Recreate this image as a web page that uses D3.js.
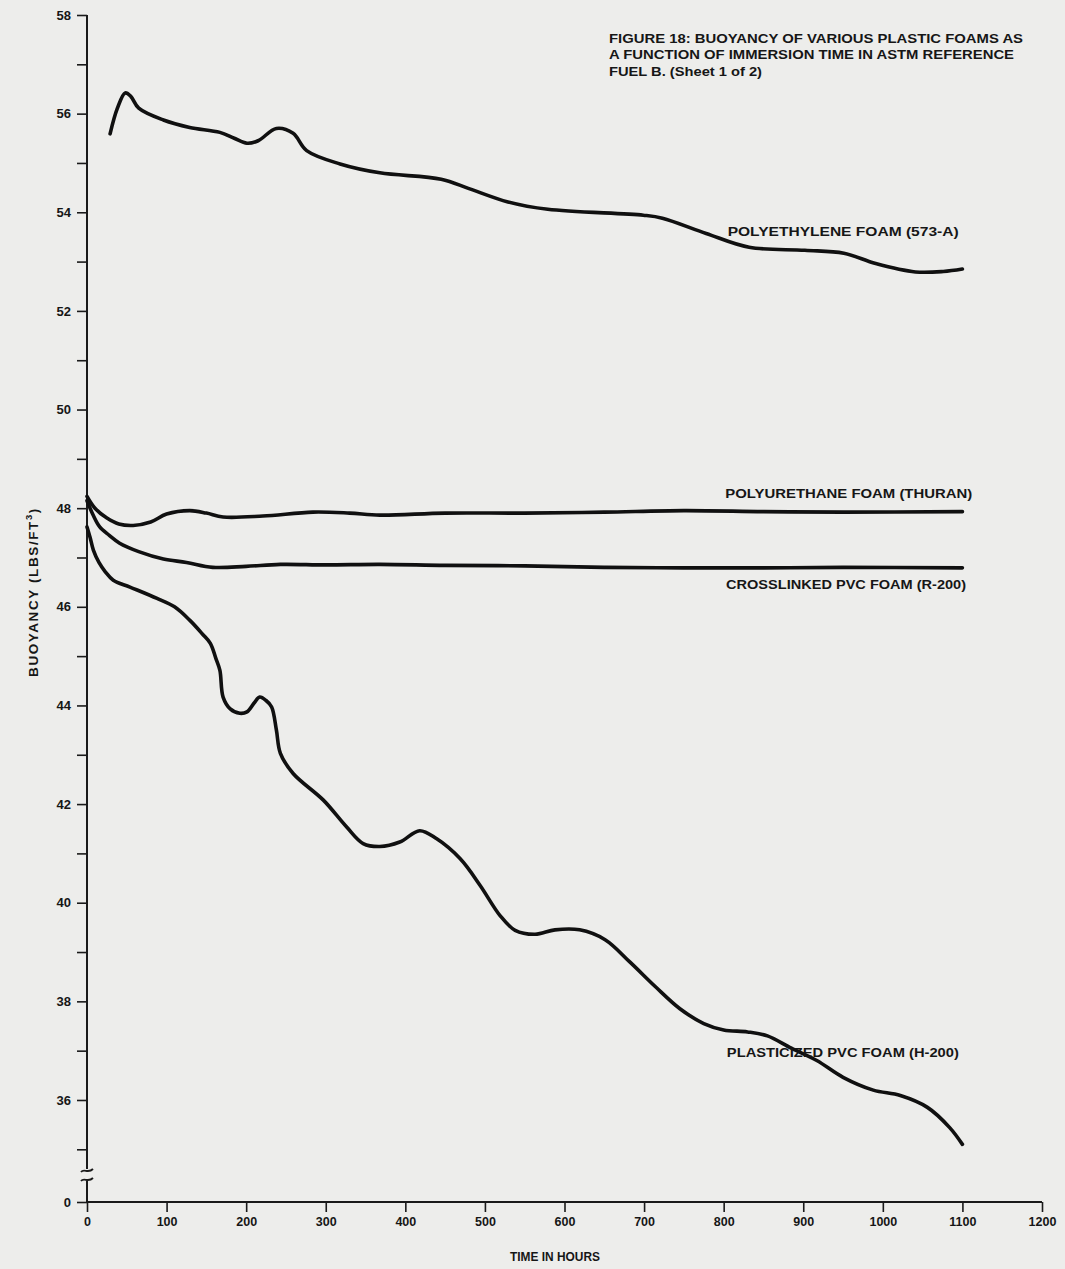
<!DOCTYPE html>
<html>
<head>
<meta charset="utf-8">
<script src="https://cdn.jsdelivr.net/npm/d3@7"></script>
<style>
  html, body { margin: 0; padding: 0; background: #ededeb; }
  svg { display: block; }
  text { font-family: "Liberation Sans Narrow", "Liberation Sans", Arial, sans-serif; font-weight: bold; fill: #161616; }
</style>
</head>
<body>
<svg id="chart" width="1065" height="1269"></svg>
<script>
// ---- data: buoyancy (lbs/ft^3) against immersion time (hours) ----
const xTickValues = [0, 100, 200, 300, 400, 500, 600, 700, 800, 900, 1000, 1100, 1200];
const yLabelledTicks = [0, 36, 38, 40, 42, 44, 46, 48, 50, 52, 54, 56, 58];
const yAllTicks = [0, 35, 36, 37, 38, 39, 40, 41, 42, 43, 44, 45, 46, 47, 48, 49, 50, 51, 52, 53, 54, 55, 56, 57, 58];

const polyethyleneHours = [29, 38, 48, 55, 65, 96, 129, 167, 185, 201, 215, 238, 259, 276, 318, 368, 445, 480, 529, 579, 699, 723, 778, 832, 902, 951, 991, 1041, 1076, 1100];
const polyethyleneBuoyancy = [55.59, 56.1, 56.42, 56.35, 56.11, 55.87, 55.72, 55.62, 55.5, 55.4, 55.45, 55.7, 55.6, 55.25, 54.98, 54.8, 54.67, 54.48, 54.21, 54.06, 53.94, 53.88, 53.57, 53.29, 53.23, 53.17, 52.96, 52.79, 52.8, 52.85];

const polyurethaneHours = [0, 10, 25, 40, 58, 80, 100, 129, 150, 171, 221, 284, 330, 368, 450, 550, 650, 750, 850, 950, 1100];
const polyurethaneBuoyancy = [48.24, 48.0, 47.8, 47.68, 47.65, 47.72, 47.88, 47.95, 47.9, 47.82, 47.84, 47.92, 47.9, 47.86, 47.9, 47.9, 47.92, 47.95, 47.93, 47.92, 47.93];

const crosslinkedHours = [0, 8, 16, 28, 41, 65, 96, 125, 158, 200, 243, 300, 368, 450, 550, 650, 750, 850, 950, 1100];
const crosslinkedBuoyancy = [48.15, 47.85, 47.62, 47.45, 47.29, 47.12, 46.97, 46.9, 46.8, 46.82, 46.86, 46.85, 46.86, 46.84, 46.83, 46.8, 46.79, 46.79, 46.8, 46.79];

const plasticizedHours = [0, 4, 8, 15, 23, 33, 54, 88, 110, 129, 145, 155, 162, 167, 171, 180, 192, 201, 210, 217, 225, 232, 238, 243, 259, 297, 326, 347, 368, 393, 418, 439, 469, 494, 519, 538, 563, 588, 619, 651, 682, 714, 745, 775, 800, 830, 855, 885, 917, 950, 988, 1022, 1056, 1084, 1100];
const plasticizedBuoyancy = [47.62, 47.4, 47.15, 46.9, 46.71, 46.54, 46.4, 46.17, 46.0, 45.73, 45.45, 45.26, 44.95, 44.71, 44.17, 43.93, 43.84, 43.87, 44.05, 44.17, 44.1, 43.97, 43.5, 43.03, 42.62, 42.08, 41.54, 41.2, 41.14, 41.23, 41.46, 41.3, 40.89, 40.35, 39.74, 39.44, 39.36, 39.45, 39.45, 39.25, 38.8, 38.3, 37.85, 37.55, 37.42, 37.38, 37.3, 37.05, 36.8, 36.46, 36.2, 36.09, 35.85, 35.44, 35.1];

const seriesNames = ["POLYETHYLENE FOAM (573-A)", "POLYURETHANE FOAM (THURAN)", "CROSSLINKED PVC FOAM (R-200)", "PLASTICIZED PVC FOAM (H-200)"];
const titleLines = ["FIGURE 18:  BUOYANCY OF VARIOUS PLASTIC FOAMS AS", "A FUNCTION OF IMMERSION TIME IN ASTM REFERENCE", "FUEL B.  (Sheet 1 of 2)"];

// ---- layout ----
const svg = d3.select("#chart");
const x = d3.scaleLinear().domain([0, 1200]).range([87, 1042]);
// broken value axis: 0 sits just below the 35..58 span
const y = d3.scaleLinear().domain([0, 35, 58]).range([1202, 1149.3, 15]);

const series = [
  { name: seriesNames[0], hours: polyethyleneHours, values: polyethyleneBuoyancy, label: { h: 805, v: 53.52, len: 231 } },
  { name: seriesNames[1], hours: polyurethaneHours, values: polyurethaneBuoyancy, label: { h: 802, v: 48.21, len: 247 } },
  { name: seriesNames[2], hours: crosslinkedHours, values: crosslinkedBuoyancy, label: { h: 803, v: 46.36, len: 240 } },
  { name: seriesNames[3], hours: plasticizedHours, values: plasticizedBuoyancy, label: { h: 804, v: 36.88, len: 232 } }
];

// y axis ticks and labels
const yAxis = d3.axisLeft(y)
  .tickValues(yAllTicks)
  .tickSize(10)
  .tickPadding(6)
  .tickFormat(d => yLabelledTicks.includes(d) ? String(d) : "");
const gy = svg.append("g").attr("transform", "translate(87,0)").call(yAxis);
gy.select(".domain").remove();
gy.selectAll(".tick line").attr("stroke", "#1a1a1a").attr("stroke-width", 1.6);
gy.selectAll(".tick text").style("font-size", "13px").attr("fill", "#161616");

// x axis
const xAxis = d3.axisBottom(x).tickValues(xTickValues).tickSize(10).tickPadding(5).tickFormat(d3.format("d"));
const gx = svg.append("g").attr("transform", `translate(0,${y(0)})`).call(xAxis);
gx.select(".domain").attr("stroke", "#1a1a1a").attr("stroke-width", 2).attr("d", `M${x(0)},0H${x(1200)}`);
gx.selectAll(".tick line").attr("stroke", "#1a1a1a").attr("stroke-width", 1.6);
gx.selectAll(".tick text").style("font-size", "12.5px").attr("fill", "#161616");

// value axis line, interrupted by the break marks
const breakTop = 1169, breakBottom = 1181;
svg.append("path")
  .attr("d", `M87,${y(58)}V${breakTop}M87,${breakBottom}V${y(0)}`)
  .attr("stroke", "#1a1a1a").attr("stroke-width", 2).attr("fill", "none");
[breakTop + 1.5, breakBottom - 1.5].forEach(by => {
  svg.append("path")
    .attr("d", `M81,${by + 1.5} C84,${by - 2.5} 88,${by + 3.5} 93,${by - 1.5}`)
    .attr("stroke", "#1a1a1a").attr("stroke-width", 1.8).attr("fill", "none");
});

// curves
const line = d3.line()
  .x(d => x(d[0]))
  .y(d => y(d[1]))
  .curve(d3.curveCatmullRom.alpha(0.5));

series.forEach(s => {
  const pts = s.hours.map((h, i) => [h, s.values[i]]);
  svg.append("path")
    .attr("d", line(pts))
    .attr("fill", "none")
    .attr("stroke", "#101010")
    .attr("stroke-width", 3.6)
    .attr("stroke-linecap", "round")
    .attr("stroke-linejoin", "round");
  svg.append("text")
    .attr("x", x(s.label.h))
    .attr("y", y(s.label.v))
    .attr("textLength", s.label.len)
    .attr("lengthAdjust", "spacingAndGlyphs")
    .style("font-size", "12.5px")
    .text(s.name);
});

// title block
const titleLengths = [414, 405, 153];
const titleBaselines = [43, 59, 76];
titleLines.forEach((t, i) => {
  svg.append("text")
    .attr("x", 609)
    .attr("y", titleBaselines[i])
    .attr("textLength", titleLengths[i])
    .attr("lengthAdjust", "spacingAndGlyphs")
    .style("font-size", "12.5px")
    .text(t);
});

// axis titles
svg.append("text")
  .attr("x", 555).attr("y", 1261)
  .attr("text-anchor", "middle")
  .attr("textLength", 90)
  .attr("lengthAdjust", "spacingAndGlyphs")
  .style("font-size", "12px")
  .text("TIME IN HOURS");

const yTitle = svg.append("text")
  .attr("transform", "translate(38,592) rotate(-90)")
  .attr("text-anchor", "middle")
  .style("font-size", "13.5px")
  .style("letter-spacing", "1.6px");
yTitle.append("tspan").text("BUOYANCY (LBS/FT");
yTitle.append("tspan").attr("dy", -6).style("font-size", "9.5px").text("3");
yTitle.append("tspan").attr("dy", 6).text(")");
</script>
</body>
</html>
